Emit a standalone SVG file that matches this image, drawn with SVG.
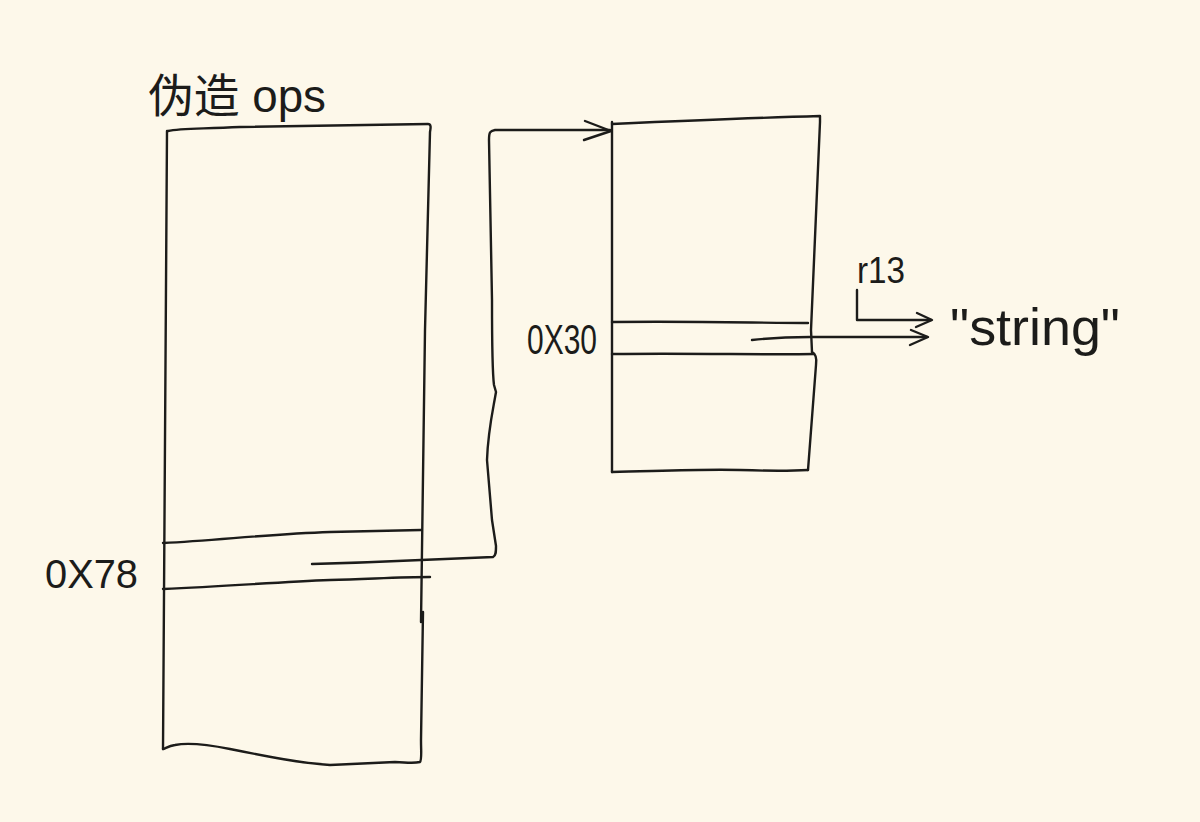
<svg xmlns="http://www.w3.org/2000/svg" width="1200" height="822" viewBox="0 0 1200 822">
<style>
.s{fill:none;stroke:#1c1c1a;stroke-width:2.4;stroke-linecap:round;stroke-linejoin:round}
.t{fill:#1c1c1a;font-family:"Liberation Sans","Noto Sans CJK SC",sans-serif}
</style>
<rect width="1200" height="822" fill="#fdf8ea"/>
<g id="title">
<text class="t" x="148" y="112" font-size="46" textLength="178" lengthAdjust="spacingAndGlyphs">伪造 ops</text>
</g>
<g id="ops-box">
<path class="s" d="M168,131 C180,128 200,129 240,127 L428,124 C431,124 431,127 430,132 L425,330 L421,622"/>
<path class="s" d="M167,131 L163,749"/>
<path class="s" d="M423,612 L421,740 C421,752 422,760 420,762 C412,764 404,762 395,762 L330,765 C300,763 270,757 230,749 C205,744 185,743 175,745 C168,746 165,749 163,749"/>
<path class="s" d="M163,543 C220,540 270,534 330,532 L421,530"/>
<path class="s" d="M163,589 C230,586 280,582 330,580 C370,579 400,577 430,577"/>
<text class="t" x="45" y="588" font-size="40" textLength="93" lengthAdjust="spacingAndGlyphs">0X78</text>
</g>
<g id="target-box">
<path class="s" d="M612,122 L612,472"/>
<path class="s" d="M612,124 C680,121 750,118 820,116 L820,122 L811,330 L812,352"/>
<path class="s" d="M812,352 C816,354 817,358 816,365 L808,470"/>
<path class="s" d="M612,472 C660,471 700,469 740,470 C770,471 790,471 808,470"/>
<path class="s" d="M612,322 C700,321 760,323 808,323"/>
<path class="s" d="M612,354 C700,353 760,355 814,354"/>
<text class="t" x="527" y="354" font-size="42" textLength="70" lengthAdjust="spacingAndGlyphs">0X30</text>
</g>
<g id="r13">
<text class="t" x="857" y="283" font-size="36" textLength="48" lengthAdjust="spacingAndGlyphs">r13</text>
</g>
<g id="string">
<text class="t" x="950" y="345" font-size="52" textLength="170" lengthAdjust="spacingAndGlyphs">"string"</text>
</g>
<g id="connectors">
<path class="s" d="M312,564 C350,563 400,561 421,560 L493,557 C496,556 496,552 496,546 L492,520 L487,460 C488,430 493,410 496,392 L494,385 C492,370 492,350 492,300 L489,140 C489,132 490,131 495,130 L610,130"/>
<path class="s" d="M585,121 L611,131 L584,140"/>
<path class="s" d="M752,340 C770,338 790,337 810,337 L927,337"/>
<path class="s" d="M911,330 L928,337 L910,345"/>
<path class="s" d="M857,290 L857,320 L931,320"/>
<path class="s" d="M917,313 L932,320 L916,327"/>
</g>
</svg>
